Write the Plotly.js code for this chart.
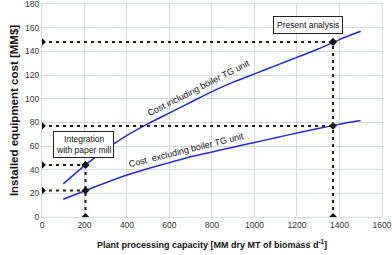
<!DOCTYPE html>
<html>
<head>
<meta charset="utf-8">
<script src="https://cdn.plot.ly/plotly-3.0.1.min.js"></script>
<style>html,body{margin:0;padding:0;background:#fff;}#chart{width:392px;height:255px;}</style>
</head>
<body>
<div id="chart"></div>
<script>
// Capacity (MM dry MT biomass per day)
const capacity = [100, 200, 300, 400, 500, 600, 700, 800, 900, 1000, 1100, 1200, 1300, 1400, 1500];
// Installed equipment cost [MM$]
const costIncluding = [28, 43.5, 57, 69, 79, 88, 97, 106, 114, 121, 128, 135, 142, 150, 157];
const costExcluding = [15, 22, 29, 35.5, 41, 46, 51, 55, 59, 63, 67, 71, 74.8, 78.4, 81.5];

// Reference cases
const caseCapacity = [205, 1370];
const caseCostIncl = [44, 148];
const caseCostExcl = [22.5, 77];
const caseNames = ["Integration<br>with paper mill", "Present analysis"];

const xTicks = [0, 200, 400, 600, 800, 1000, 1200, 1400, 1600];
const yTicks = [0, 20, 40, 60, 80, 100, 120, 140, 160, 180];

const font = "Liberation Sans, Arial, sans-serif";
const dotLine = {color: "#2a1a10", width: 2, dash: "3px,4px"};
const mk = {symbol: "diamond", size: 6, color: "#111"};

const traces = [
  {x: capacity, y: costIncluding, mode: "lines", line: {color: "#1f2fd0", width: 1.5, shape: "spline", smoothing: 0.6}, hoverinfo: "none"},
  {x: capacity, y: costExcluding, mode: "lines", line: {color: "#1f2fd0", width: 1.5, shape: "spline", smoothing: 0.6}, hoverinfo: "none"}
];
for (let i = 0; i < caseCapacity.length; i++) {
  const cx = caseCapacity[i];
  for (const cy of [caseCostIncl[i], caseCostExcl[i]]) {
    traces.push({x: [0, cx], y: [cy, cy], mode: "lines+markers", line: dotLine, marker: mk, hoverinfo: "none"});
  }
  traces.push({x: [cx, cx], y: [0, caseCostIncl[i]], mode: "lines+markers", line: dotLine, marker: mk, hoverinfo: "none"});
}

const layout = {
  width: 392, height: 255,
  margin: {l: 42, r: 10, t: 4, b: 38},
  showlegend: false,
  paper_bgcolor: "#fff", plot_bgcolor: "#fff",
  font: {family: font, size: 9, color: "#333"},
  xaxis: {
    range: [0, 1600.5], tickvals: xTicks, ticktext: xTicks.map(String),
    showgrid: true, gridcolor: "#d3dbdc", gridwidth: 1,
    zeroline: false, showline: true, linecolor: "#d3dbdc", mirror: true,
    ticks: "", tickfont: {size: 8.5, color: "#333"}, ticklabeloverflow: "allow",
    title: {text: "<b>Plant processing capacity [MM dry MT of biomass d<sup>-1</sup>]</b>", font: {size: 9, color: "#111"}, standoff: 12}
  },
  yaxis: {
    range: [0, 180.1], tickvals: yTicks, ticktext: yTicks.map(String),
    showgrid: true, gridcolor: "#d3dbdc", gridwidth: 1,
    zeroline: false, showline: true, linecolor: "#d3dbdc", mirror: true,
    ticks: "", tickfont: {size: 8.5, color: "#333"}, ticklabeloverflow: "allow",
    title: {text: "<b>Installed equipment cost [MM$]</b>", font: {size: 11.5, color: "#111"}, standoff: 4}
  },
  annotations: [
    {x: 1253, y: 162, text: caseNames[1], showarrow: false, font: {size: 8.5, color: "#111"},
     bgcolor: "#fff", bordercolor: "#222", borderwidth: 1, borderpad: 3},
    {x: 195, y: 61, text: caseNames[0], showarrow: false, font: {size: 8.5, color: "#111"},
     bgcolor: "#fff", bordercolor: "#222", borderwidth: 1, borderpad: 2},
    {x: 737, y: 109, text: "Cost including boiler TG unit", showarrow: false, textangle: -27,
     font: {size: 9, color: "#111"}},
    {x: 680, y: 57, text: "Cost&nbsp; excluding boiler TG unit", showarrow: false, textangle: -14,
     font: {size: 9, color: "#111"}}
  ]
};

Plotly.newPlot("chart", traces, layout, {staticPlot: true, displayModeBar: false});
</script>
</body>
</html>
